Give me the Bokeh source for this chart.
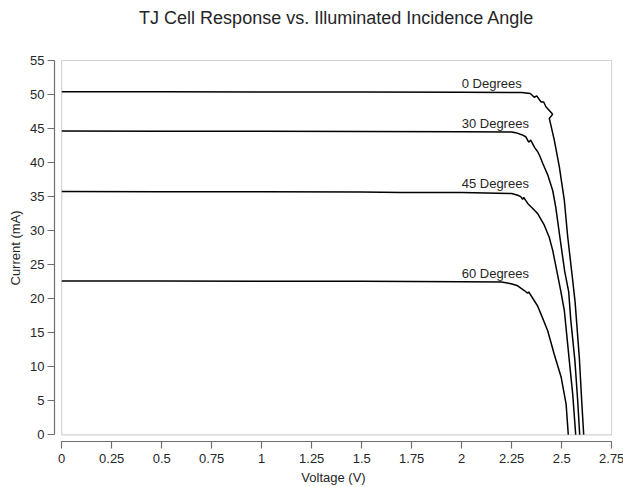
from bokeh.plotting import figure
from bokeh.models import BoxAnnotation, FixedTicker, Range1d, Label, Title
from bokeh.core.properties import value
from bokeh.embed import file_html
from bokeh.resources import INLINE

# ---- data ----
v_0deg = [0.0, 0.5, 1.0, 1.5, 2.0, 2.3, 2.343, 2.363, 2.375, 2.397, 2.41, 2.421, 2.455, 2.438,
          2.463, 2.488, 2.513, 2.530, 2.555, 2.567, 2.588, 2.60, 2.61]
i_0deg = [50.4, 50.4, 50.38, 50.37, 50.35, 50.3, 50.15, 49.6, 49.8, 48.9, 48.9, 48.2, 47.1, 46.5,
          43.3, 39.4, 34.5, 29.1, 22.7, 19.5, 11.4, 5.0, 0.0]

v_30deg = [0.0, 0.5, 1.0, 1.5, 2.0, 2.25, 2.27, 2.30, 2.32, 2.335, 2.345, 2.365, 2.38, 2.39,
           2.405, 2.43, 2.455, 2.47, 2.493, 2.515, 2.535, 2.545, 2.566, 2.58, 2.59]
i_30deg = [44.65, 44.62, 44.6, 44.58, 44.55, 44.5, 44.4, 44.1, 43.8, 43.0, 43.3, 42.2, 41.6, 41.0,
           39.9, 38.2, 35.9, 33.5, 28.6, 24.0, 21.0, 17.0, 10.9, 5.0, 0.0]

v_45deg = [0.0, 0.5, 1.0, 1.5, 1.7, 2.0, 2.25, 2.28, 2.295, 2.305, 2.31, 2.33, 2.36, 2.38,
           2.413, 2.438, 2.455, 2.472, 2.495, 2.513, 2.538, 2.555, 2.57]
i_45deg = [35.75, 35.72, 35.7, 35.67, 35.62, 35.6, 35.45, 35.2, 35.0, 34.6, 34.9, 34.0, 33.1, 32.5,
           30.8, 29.0, 27.1, 24.6, 21.2, 18.3, 10.9, 6.0, 0.0]

v_60deg = [0.0, 0.5, 1.0, 1.5, 2.0, 2.2, 2.247, 2.28, 2.313, 2.33, 2.335, 2.363, 2.38, 2.397,
           2.43, 2.463, 2.497, 2.522, 2.533]
i_60deg = [22.6, 22.6, 22.58, 22.56, 22.5, 22.45, 22.2, 21.9, 21.2, 20.8, 21.0, 19.7, 18.9, 17.7,
           15.3, 11.8, 8.5, 4.5, 0.0]

series_v = [v_0deg, v_30deg, v_45deg, v_60deg]
series_i = [i_0deg, i_30deg, i_45deg, i_60deg]
series_names = ["0 Degrees", "30 Degrees", "45 Degrees", "60 Degrees"]
label_x = [2.0, 2.0, 2.0, 2.0]
label_y = [51.6, 45.8, 36.9, 23.75]

x_ticks = [0, 0.25, 0.5, 0.75, 1, 1.25, 1.5, 1.75, 2, 2.25, 2.5, 2.75]
x_tick_labels = ["0", "0.25", "0.5", "0.75", "1", "1.25", "1.5", "1.75", "2", "2.25", "2.5", "2.75"]
y_ticks = [0, 5, 10, 15, 20, 25, 30, 35, 40, 45, 50, 55]
y_tick_labels = ["0", "5", "10", "15", "20", "25", "30", "35", "40", "45", "50", "55"]

title_text = "TJ Cell Response vs. Illuminated Incidence Angle"
x_label = "Voltage (V)"
y_label = "Current (mA)"

x_lo, x_hi = 0, 2.75
y_lo, y_hi = 0, 55

FONT = "Liberation Sans"
AXIS_COL = "#6e6e6e"
TEXT_COL = "#262626"

# frame reaches the top of the canvas so the title can sit inside it
p = figure(
    frame_width=558, frame_height=441,
    x_range=Range1d(-0.036, 2.754), y_range=Range1d(-0.985, 63.82),
    output_backend="svg", toolbar_location=None,
    min_border_left=53, min_border_right=12, min_border_top=0, min_border_bottom=46,
)

p.outline_line_color = None
p.xgrid.visible = False
p.ygrid.visible = False
p.background_fill_color = "white"
p.border_fill_color = "white"

# title, centred over the plot box, 17px below the top of the canvas
p.add_layout(Label(x=(x_lo + x_hi) / 2, y=441 - 17, x_units="data", y_units="screen",
                   text=title_text, text_align="center", text_baseline="middle",
                   text_font=FONT, text_font_size="18px", text_color=TEXT_COL))

# plot box
p.add_layout(BoxAnnotation(left=x_lo, right=x_hi, bottom=y_lo, top=y_hi,
                           fill_alpha=0, line_color=AXIS_COL, line_width=1.2))

for vv, ii in zip(series_v, series_i):
    p.line(vv, ii, line_color="black", line_width=1.5)

p.text(x=label_x, y=label_y, text=series_names, text_font=value(FONT),
       text_font_size="13px", text_color=TEXT_COL, text_align="left",
       text_baseline="alphabetic")

for ax, ticks, labels, bounds in ((p.xaxis[0], x_ticks, x_tick_labels, (x_lo, x_hi)),
                                   (p.yaxis[0], y_ticks, y_tick_labels, (y_lo, y_hi))):
    ax.ticker = FixedTicker(ticks=ticks)
    ax.major_label_overrides = {t: l for t, l in zip(ticks, labels)}
    ax.bounds = bounds
    ax.axis_line_color = AXIS_COL
    ax.axis_line_width = 1.2
    ax.major_tick_line_color = AXIS_COL
    ax.major_tick_line_width = 1.2
    ax.major_tick_out = 7
    ax.major_tick_in = 0
    ax.minor_tick_line_color = None
    ax.major_label_text_font = FONT
    ax.major_label_text_font_size = "13px"
    ax.major_label_text_color = TEXT_COL
    ax.axis_label_text_font = FONT
    ax.axis_label_text_font_size = "13px"
    ax.axis_label_text_font_style = "normal"
    ax.axis_label_text_color = TEXT_COL

p.xaxis.axis_label = x_label
p.xaxis.major_label_standoff = 5
p.xaxis.axis_label_standoff = 4
p.yaxis.major_label_standoff = 3
p.yaxis.major_label_orientation = "horizontal"

# y-axis label centred on the plot box rather than on the (taller) frame
p.add_layout(Title(text=y_label, align="left", offset=156, standoff=10,
                   text_font=FONT, text_font_size="13px", text_font_style="normal",
                   text_color=TEXT_COL), "left")

open("out.html", "w").write(file_html(p, INLINE))
